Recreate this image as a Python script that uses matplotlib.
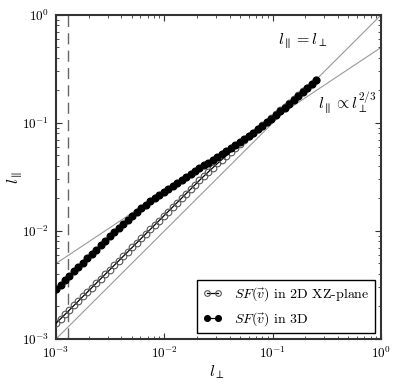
import numpy as np
import matplotlib
matplotlib.use("Agg")
import matplotlib.pyplot as plt

plt.rcParams['font.family'] = 'serif'
plt.rcParams['font.serif'] = ['cmr10', 'DejaVu Serif']
plt.rcParams['mathtext.fontset'] = 'cm'
plt.rcParams['axes.formatter.use_mathtext'] = True

# l_perp sample positions (units of 1e-3)
l_perp = [1.000, 1.100, 1.210, 1.331, 1.464, 1.611, 1.772, 1.949, 2.144, 2.358,
          2.594, 2.853, 3.138, 3.452, 3.797, 4.177, 4.595, 5.054, 5.560, 6.116,
          6.727, 7.400, 8.140, 8.954, 9.850, 10.83, 11.92, 13.11, 14.42, 15.86,
          17.45, 19.19, 21.11, 23.23, 25.55, 28.10, 30.91, 34.00, 37.40, 41.14,
          45.26, 49.79, 54.76, 60.24, 66.26, 72.89, 80.18, 88.20, 97.02, 106.7,
          117.4, 129.1, 142.0, 156.2, 171.9, 189.1, 208.0, 228.8, 251.7]

# l_par from SF(v) in 2D XZ-plane (units of 1e-3)
l_par_2d = [1.396, 1.536, 1.689, 1.858, 2.044, 2.249, 2.474, 2.721, 2.993, 3.292,
            3.621, 3.983, 4.381, 4.819, 5.301, 5.831, 6.414, 7.055, 7.761, 8.537,
            9.391, 10.33, 11.36, 12.50, 13.75, 15.12, 16.64, 18.30, 20.13, 22.14,
            24.36, 26.79, 29.47, 32.29, 35.36, 38.61, 42.19, 45.87, 49.89, 54.22,
            58.97, 63.98, 69.44, 75.12, 81.50, 88.05, 95.33, 102.9, 111.4, 120.8,
            130.8, 141.9, 153.9, 166.7, 180.8, 195.7, 212.8, 231.5, 251.7]

# l_par from SF(v) in 3D (units of 1e-3)
l_par_3d = [2.904, 3.188, 3.500, 3.844, 4.220, 4.633, 5.087, 5.586, 6.133, 6.734,
            7.394, 8.120, 8.917, 9.765, 10.70, 11.69, 12.75, 13.86, 15.05, 16.26,
            17.48, 18.76, 20.09, 21.40, 22.81, 24.30, 25.90, 27.60, 29.41, 31.33,
            33.39, 35.58, 37.92, 40.40, 43.05, 45.87, 48.88, 52.09, 55.50, 59.15,
            63.02, 67.16, 71.56, 76.26, 81.26, 87.79, 94.20, 101.3, 109.2, 118.0,
            127.8, 138.6, 150.9, 164.1, 178.5, 194.7, 212.3, 231.5, 252.4]

x = np.array(l_perp) * 1e-3
y2 = np.array(l_par_2d) * 1e-3
y3 = np.array(l_par_3d) * 1e-3

fig = plt.figure(figsize=(3.99, 3.86), dpi=100)
ax = fig.add_axes([0.1404, 0.1218, 0.8145, 0.8394])

# reference slopes
xr = np.array([1e-3, 1.0])
ax.plot(xr, xr, color='#999999', lw=0.8, zorder=1)
ax.plot(xr, 0.5 * xr ** (2.0 / 3.0), color='#999999', lw=0.8, zorder=1)
ax.axvline(1.3e-3, color='#666666', lw=1.0, dashes=(8, 4.5), zorder=1)

ax.plot(x, y2, '-o', color='black', lw=0.9, ms=4.8, mfc='none', mec='#555555',
        mew=0.8, label=r'$SF(\vec{v})$ in 2D XZ-plane', zorder=3)
ax.plot(x, y3, '-o', color='black', lw=0.9, ms=4.8, mfc='black', mec='black',
        label=r'$SF(\vec{v})$ in 3D', zorder=4)

ax.set_xscale('log')
ax.set_yscale('log')
ax.set_xlim(1e-3, 1)
ax.set_ylim(1e-3, 1)

ax.text(0.683, 0.92, r'$l_\parallel = l_\perp$', transform=ax.transAxes,
        fontsize=11.5, va='center')
ax.text(0.807, 0.73, r'$l_\parallel \propto l_\perp^{2/3}$', transform=ax.transAxes,
        fontsize=11.5, va='center')

ax.set_xlabel(r'$l_\perp$', fontsize=11.5)
ax.set_ylabel(r'$l_\parallel$', fontsize=11.5)
ax.xaxis.set_label_coords(0.495, -0.074)
ax.yaxis.set_label_coords(-0.098, 0.5)

for s in ax.spines.values():
    s.set_linewidth(1.5)
    s.set_color('#333333')
ax.tick_params(which='both', direction='in', top=True, right=True, color='#333333', labelsize=9.5)
ax.tick_params(which='major', length=4.5, width=0.8, pad=5)
ax.tick_params(which='minor', length=2.5, width=0.6)

leg = ax.legend(loc='lower right', fontsize=10, numpoints=2, fancybox=False,
                framealpha=1, edgecolor='black', borderaxespad=0.4,
                handlelength=1.4, handletextpad=0.9, markerscale=0.85)
leg.get_frame().set_linewidth(1.0)

fig.savefig('out.png', dpi=100)
